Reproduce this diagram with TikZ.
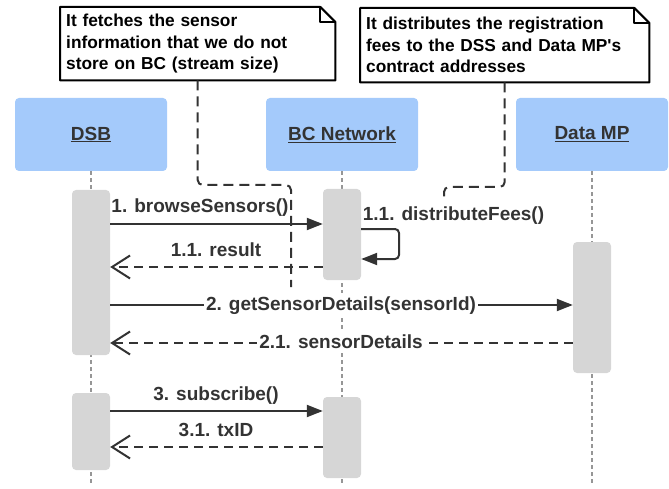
\documentclass[tikz,border=0pt]{standalone}
\usepackage{fontspec}
\setmainfont{Liberation Sans}
\usetikzlibrary{arrows.meta}
\definecolor{ink}{HTML}{333333}
\definecolor{headblue}{RGB}{164,202,251}
\definecolor{actgray}{RGB}{214,214,214}
\definecolor{lifegray}{RGB}{150,150,150}
\newcommand\msgfont{\fontsize{19}{23}\selectfont\bfseries}
\newcommand\notefont{\fontsize{17.3}{21.4}\selectfont\bfseries}

\begin{document}
\begin{tikzpicture}[x=1pt,y=-1pt,
  head/.style={fill=headblue, rounded corners=4pt, minimum width=152pt,
    minimum height=73pt, inner sep=0pt, font=\msgfont, text=ink},
  act/.style={fill=actgray, rounded corners=4pt, minimum width=38pt, inner sep=0pt},
  lifeline/.style={draw=lifegray, line width=1.2pt, dash pattern=on 4pt off 3pt},
  msg/.style={draw=ink, line width=2pt, -{Triangle[length=16pt,width=12pt]}},
  reply/.style={draw=ink, line width=2pt, dash pattern=on 9pt off 6pt,
    -{Straight Barb[length=18pt,width=23pt]}},
  lbl/.style={font=\msgfont, text=ink, inner sep=0pt, anchor=base},
  onlbl/.style={lbl, fill=white, inner xsep=2pt, inner ysep=3pt},
  notetext/.style={font=\notefont, align=left, inner xsep=6pt, inner ysep=0pt,
    anchor=north west, text=black},
  notebox/.style={draw=black, line width=2pt, line join=round},
  noteline/.style={draw=ink, line width=2pt, dash pattern=on 10pt off 6pt,
    rounded corners=5pt}
]
\useasboundingbox (0,0) rectangle (669,489);

% lifeline heads
\node[head] (dsb) at (91,134.5) {\underline{DSB}};
\node[head] (bc)  at (342,134.5) {\underline{BC Network}};
\node[head] (dmp) at (592,134.5) {\underline{Data MP}};

% lifelines
\coordinate (dsbEnd) at (91,486);
\coordinate (bcEnd)  at (342,486);
\coordinate (dmpEnd) at (592,486);
\draw[lifeline] (dsb.south) -- (dsbEnd);
\draw[lifeline] (bc.south) -- (bcEnd);
\draw[lifeline] (dmp.south) -- (dmpEnd);

% activation bars
\node[act, minimum height=165pt] (dsbA) at (91,272.5) {};
\node[act, minimum height=77pt]  (dsbB) at (91,431.5) {};
\node[act, minimum height=91pt]  (bcA)  at (342,234.5) {};
\node[act, minimum height=81pt]  (bcB)  at (342,437.5) {};
\node[act, minimum height=131pt] (dmpA) at (592,307.5) {};

% message levels
\coordinate (y1)  at (0,224);
\coordinate (y11) at (0,229);
\coordinate (y11b) at (0,259);
\coordinate (y1r) at (0,267);
\coordinate (y2)  at (0,305);
\coordinate (y2r) at (0,343);
\coordinate (y3)  at (0,411);
\coordinate (y3r) at (0,447);

% 1. browseSensors()
\draw[msg] (dsbA.east |- y1) -- (bcA.west |- y1);
\node[lbl] (l1) at (200,213) {1. browseSensors()};

% 1.1. distributeFees() (self call)
\coordinate (selfR) at (399,0);
\draw[msg, rounded corners=4pt] (bcA.east |- y11) -- (selfR |- y11)
  -- (selfR |- y11b) -- (bcA.east |- y11b);
\node[lbl] (l11) at (453.5,220) {1.1. distributeFees()};

% 1.1. result
\draw[reply] (bcA.west |- y1r) -- (dsbA.east |- y1r);
\node[lbl] (l1r) at (216,256) {1.1. result};

% 2. getSensorDetails(sensorId)
\draw[msg] (dsbA.east |- y2) -- (dmpA.west |- y2);
\node[onlbl] (l2) at (341,310) {2. getSensorDetails(sensorId)};

% 2.1. sensorDetails
\draw[reply] (dmpA.west |- y2r) -- (dsbA.east |- y2r);
\node[onlbl] (l2r) at (341,348.5) {2.1. sensorDetails};

% 3. subscribe()
\draw[msg] (dsbB.east |- y3) -- (bcB.west |- y3);
\node[lbl] (l3) at (216,400) {3. subscribe()};

% 3.1. txID
\draw[reply] (bcB.west |- y3r) -- (dsbB.east |- y3r);
\node[lbl] (l3r) at (216,436) {3.1. txID};

% notes
\node[notetext, minimum width=275pt, minimum height=73pt, text width=263pt] (n1) at (60,7)
  {It fetches the sensor\\information that we do not\\store on BC (stream size)};
\node[notetext, minimum width=289pt, minimum height=74pt, text width=277pt] (n2) at (360,8)
  {It distributes the registration\\fees to the DSS and Data MP\textquotesingle s\\contract addresses};

% note outlines with folded corner
\foreach \n in {n1,n2}{
  \draw[notebox] (\n.south west) -- (\n.north west)
    -- ([xshift=-15pt]\n.north east) -- ([yshift=-15pt]\n.north east)
    -- (\n.south east) -- cycle;
  \draw[notebox] ([xshift=-15pt]\n.north east)
    -- ([xshift=-15pt,yshift=-15pt]\n.north east)
    -- ([yshift=-15pt]\n.north east);
}

% note connectors
\coordinate (c1a) at (291,185);
\coordinate (c1b) at (291,287);
\coordinate (c2a) at (444,187);
\coordinate (c2b) at (444,198);
\draw[noteline] (n1.south) |- (c1a) -- (c1b);
\draw[noteline] (n2.south) |- (c2a) -- (c2b);
\end{tikzpicture}
\end{document}
